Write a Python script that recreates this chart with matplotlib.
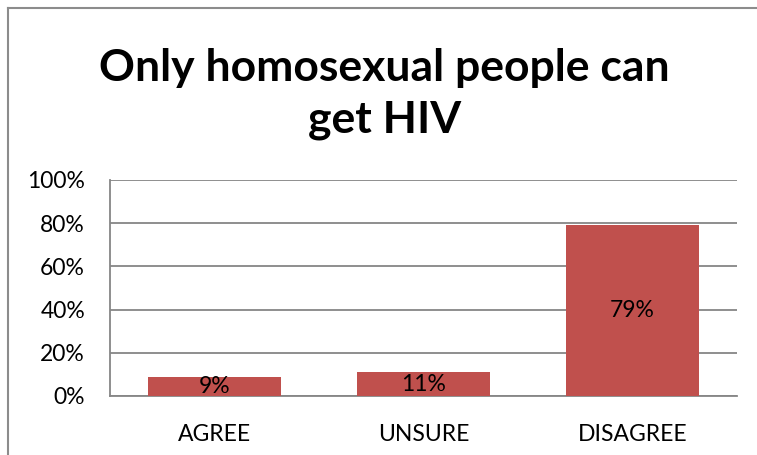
import matplotlib
matplotlib.use('Agg')
from matplotlib import pyplot as plt
from matplotlib.lines import Line2D

categories = ['AGREE', 'UNSURE', 'DISAGREE']
values = [9, 11, 79]
y_ticks = [0, 20, 40, 60, 80, 100]
title = 'Only homosexual people can\nget HIV'

BAR_COLOUR = '#C0504D'
GRID_COLOUR = '#868686'

plt.rcParams['font.family'] = ['Lato', 'DejaVu Sans']

fig = plt.figure(figsize=(7.57, 4.55), dpi=100)
ax = fig.add_axes([0.1453, 0.1297, 0.8283, 0.4747])

x = range(len(categories))
ax.bar(x, values, width=0.64, color=BAR_COLOUR, zorder=3)
for i, v in zip(x, values):
    ax.text(i, v / 2, f'{v}%', ha='center', va='center', fontsize=16.5, zorder=4)

ax.set_xlim(-0.5, len(categories) - 0.5)
ax.set_ylim(0, 100)
ax.set_yticks(y_ticks)
ax.set_yticklabels([f'{t}%' for t in y_ticks], fontsize=16.5)
ax.set_xticks(list(x))
ax.set_xticklabels(categories, fontsize=16.5)
ax.tick_params(axis='both', length=0)
ax.tick_params(axis='y', pad=18)
ax.tick_params(axis='x', pad=20)
ax.grid(axis='y', color=GRID_COLOUR, linewidth=1.3, zorder=0)
for side in ['top', 'right']:
    ax.spines[side].set_visible(False)
for side in ['left', 'bottom']:
    ax.spines[side].set_color(GRID_COLOUR)
    ax.spines[side].set_linewidth(1.3)

fig.text(0.508, 0.794, title, ha='center', va='center', fontsize=32,
         fontweight='bold', linespacing=1.35)

# chart frame (cropped at right/bottom)
fig.add_artist(Line2D([8 / 757, 8 / 757], [0, 1 - 8 / 455], color='#8c8c8c', linewidth=1.5))
fig.add_artist(Line2D([8 / 757, 1], [1 - 8 / 455, 1 - 8 / 455], color='#8c8c8c', linewidth=1.5))

fig.savefig('out.png', dpi=100)
